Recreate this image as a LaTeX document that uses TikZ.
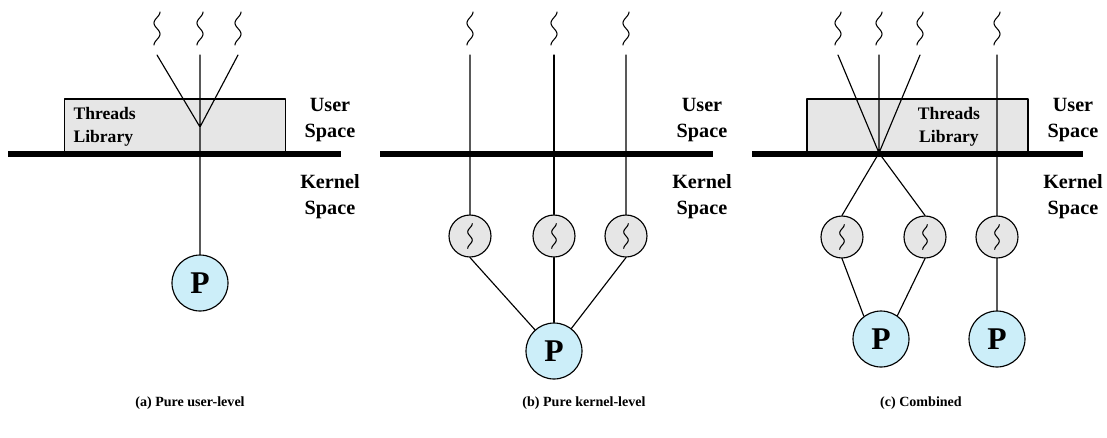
\documentclass[tikz,border=0pt]{standalone}
\usepackage{fontspec}
\setmainfont{Liberation Serif}
\definecolor{procblue}{HTML}{CCEEF9}
\definecolor{libgray}{HTML}{E6E6E6}
\begin{document}
\begin{tikzpicture}[x=.02cm,y=-.02cm,line join=round,line cap=round,line width=.65pt]
	\tikzset{every node/.style={font=\bfseries,inner sep=0pt},
		wiggle/.pic={\draw[line width=.6pt] plot[domain=-16.5:16.5,samples=40,smooth] ({3*sin(\x*360/22)},\x);},
		spacelbl/.style={align=center,font=\fontsize{11.5}{14.7}\selectfont\bfseries},
		capt/.style={font=\fontsize{8}{10}\selectfont\bfseries},
		lib/.style={draw,fill=libgray,minimum width=4.42cm,minimum height=1.06cm},
		libtext/.style={align=left,font=\fontsize{10}{13}\selectfont\bfseries},
		kthread/.style={circle,draw,fill=libgray,minimum size=.84cm},
		proc/.style={circle,draw,fill=procblue,minimum size=1.12cm,font=\fontsize{18}{18}\selectfont\bfseries},
		bar/.style={line width=3pt,line cap=butt}}
	\useasboundingbox (0,0) rectangle (1107,437);
	% (a) pure user-level
	\node[lib] (liba) at (175,125.5) {};
	\node[libtext,anchor=west] (tla) at (73,127) {Threads\\Library};
	\draw[bar] (8,154) -- (341,154);
	\node[proc] (pa) at (200,283) {P};
	\coordinate (va) at (200,127);
	\foreach \i/\x in {1/157,2/200,3/238}{
		\pic at (\x,28.5) {wiggle};
		\coordinate (a\i) at (\x,55);}
	\draw (a1) -- (va) -- (a3) (a2) -- (pa);
	% (b) pure kernel-level
	\draw[bar] (380,154) -- (713,154);
	\node[proc] (pb) at (554,351) {P};
	\foreach \i/\x in {1/470,2/554,3/626}{
		\pic at (\x,28.5) {wiggle};
		\coordinate (b\i) at (\x,55);
		\node[kthread] (kb\i) at (\x,236) {};
		\pic[scale=.75] at (kb\i) {wiggle};
		\draw (b\i) -- (kb\i) (kb\i.south) -- (pb);}
	% (c) combined
	\node[lib] (libc) at (917.5,125.5) {};
	\node[libtext,align=center] (tlc) at (949,127) {Threads\\Library};
	\draw[bar] (752,154) -- (1083,154);
	\coordinate (xc) at (879,153);
	\node[proc] (pc1) at (881,339) {P};
	\node[proc] (pc2) at (997,339) {P};
	\foreach \i/\x in {1/838,2/879,3/920,4/997}{
		\pic at (\x,28.5) {wiggle};
		\coordinate (c\i) at (\x,55);}
	\foreach \i/\x in {1/842,2/925,3/997}{
		\node[kthread] (kc\i) at (\x,237) {};
		\pic[scale=.75] at (kc\i) {wiggle};}
	\draw (c1) -- (xc) -- (c3) (c2) -- (xc);
	\draw (kc1.north) -- (xc) -- (kc2.north);
	\draw (kc1.south) -- (pc1.127) (kc2.south) -- (pc1.55) (c4) -- (kc3) -- (pc2);
	% labels
	\foreach \x/\p in {330/a,702/b,1073/c}{
		\node[spacelbl] (us\p) at (\x,120) {User\\Space};
		\node[spacelbl] (ks\p) at (\x,197) {Kernel\\Space};}
	\node[capt] (capa) at (190,403) {(a) Pure user-level};
	\node[capt] (capb) at (584,403) {(b) Pure kernel-level};
	\node[capt] (capc) at (921,403) {(c) Combined};
\end{tikzpicture}
\end{document}
